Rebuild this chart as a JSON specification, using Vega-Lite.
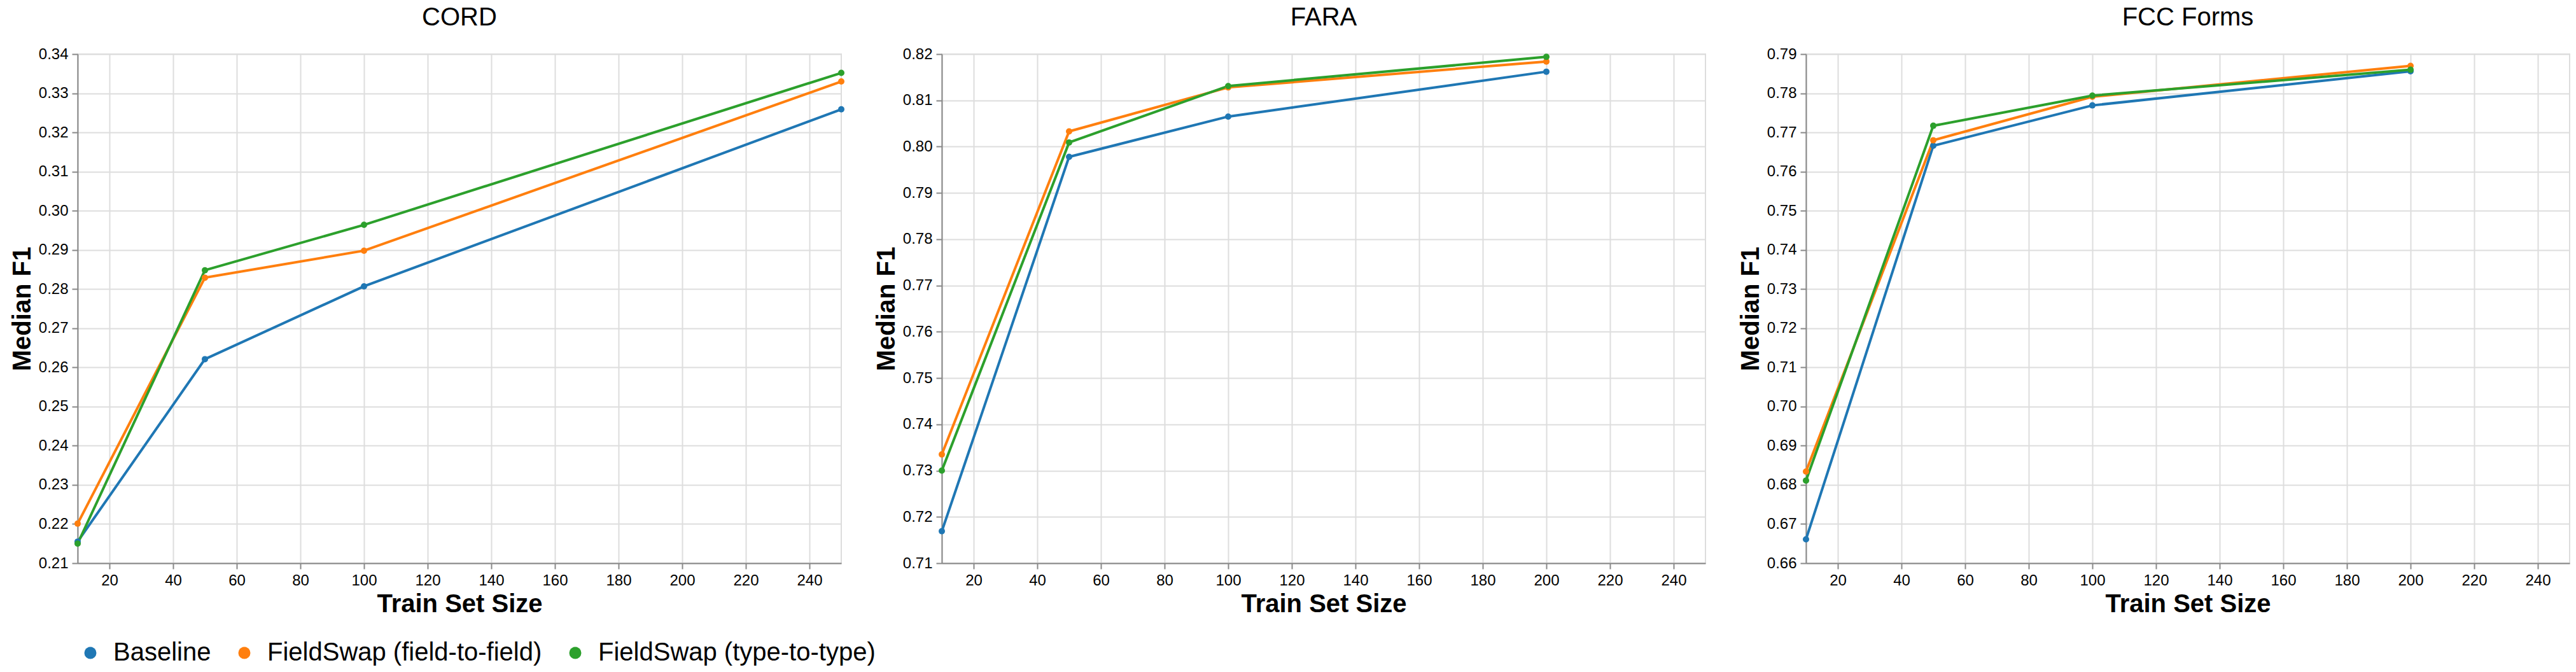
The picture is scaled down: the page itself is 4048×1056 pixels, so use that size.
{
  "$schema": "https://vega.github.io/schema/vega-lite/v6.json",
  "padding": {"left": 14, "top": 7, "right": 0, "bottom": 5},
  "background": "white",
  "data": {
    "values": [
      {"dataset": "CORD", "method": "Baseline", "size": 10, "f1": 0.2155},
      {"dataset": "CORD", "method": "Baseline", "size": 50, "f1": 0.2621},
      {"dataset": "CORD", "method": "Baseline", "size": 100, "f1": 0.2807},
      {"dataset": "CORD", "method": "Baseline", "size": 250, "f1": 0.3259},
      {"dataset": "CORD", "method": "FieldSwap (field-to-field)", "size": 10, "f1": 0.2201},
      {"dataset": "CORD", "method": "FieldSwap (field-to-field)", "size": 50, "f1": 0.2829},
      {"dataset": "CORD", "method": "FieldSwap (field-to-field)", "size": 100, "f1": 0.2898},
      {"dataset": "CORD", "method": "FieldSwap (field-to-field)", "size": 250, "f1": 0.3330},
      {"dataset": "CORD", "method": "FieldSwap (type-to-type)", "size": 10, "f1": 0.2150},
      {"dataset": "CORD", "method": "FieldSwap (type-to-type)", "size": 50, "f1": 0.2848},
      {"dataset": "CORD", "method": "FieldSwap (type-to-type)", "size": 100, "f1": 0.2964},
      {"dataset": "CORD", "method": "FieldSwap (type-to-type)", "size": 250, "f1": 0.3352},
      {"dataset": "FARA", "method": "Baseline", "size": 10, "f1": 0.7169},
      {"dataset": "FARA", "method": "Baseline", "size": 50, "f1": 0.7978},
      {"dataset": "FARA", "method": "Baseline", "size": 100, "f1": 0.8065},
      {"dataset": "FARA", "method": "Baseline", "size": 200, "f1": 0.8162},
      {"dataset": "FARA", "method": "FieldSwap (field-to-field)", "size": 10, "f1": 0.7335},
      {"dataset": "FARA", "method": "FieldSwap (field-to-field)", "size": 50, "f1": 0.8033},
      {"dataset": "FARA", "method": "FieldSwap (field-to-field)", "size": 100, "f1": 0.8128},
      {"dataset": "FARA", "method": "FieldSwap (field-to-field)", "size": 200, "f1": 0.8184},
      {"dataset": "FARA", "method": "FieldSwap (type-to-type)", "size": 10, "f1": 0.7300},
      {"dataset": "FARA", "method": "FieldSwap (type-to-type)", "size": 50, "f1": 0.8009},
      {"dataset": "FARA", "method": "FieldSwap (type-to-type)", "size": 100, "f1": 0.8131},
      {"dataset": "FARA", "method": "FieldSwap (type-to-type)", "size": 200, "f1": 0.8194},
      {"dataset": "FCC Forms", "method": "Baseline", "size": 10, "f1": 0.6661},
      {"dataset": "FCC Forms", "method": "Baseline", "size": 50, "f1": 0.7666},
      {"dataset": "FCC Forms", "method": "Baseline", "size": 100, "f1": 0.7769},
      {"dataset": "FCC Forms", "method": "Baseline", "size": 200, "f1": 0.7856},
      {"dataset": "FCC Forms", "method": "FieldSwap (field-to-field)", "size": 10, "f1": 0.6834},
      {"dataset": "FCC Forms", "method": "FieldSwap (field-to-field)", "size": 50, "f1": 0.7680},
      {"dataset": "FCC Forms", "method": "FieldSwap (field-to-field)", "size": 100, "f1": 0.7791},
      {"dataset": "FCC Forms", "method": "FieldSwap (field-to-field)", "size": 200, "f1": 0.7870},
      {"dataset": "FCC Forms", "method": "FieldSwap (type-to-type)", "size": 10, "f1": 0.6811},
      {"dataset": "FCC Forms", "method": "FieldSwap (type-to-type)", "size": 50, "f1": 0.7717},
      {"dataset": "FCC Forms", "method": "FieldSwap (type-to-type)", "size": 100, "f1": 0.7794},
      {"dataset": "FCC Forms", "method": "FieldSwap (type-to-type)", "size": 200, "f1": 0.7860}
    ]
  },
  "bounds": "flush",
  "spacing": 158,
  "resolve": {"scale": {"y": "independent", "x": "shared", "color": "shared", "stroke": "shared"}},
  "hconcat": [
    {
      "title": "CORD",
      "width": 1200,
      "height": 800,
      "transform": [{"filter": "datum.dataset == 'CORD'"}],
      "encoding": {
        "x": {"field": "size", "type": "quantitative", "title": "Train Set Size", "scale": {"domain": [10, 250], "nice": false}, "axis": {"tickCount": 12}},
        "y": {"field": "f1", "type": "quantitative", "title": "Median F1", "scale": {"zero": false, "nice": true}, "axis": {"tickCount": 12}}
      },
      "layer": [
        {
          "mark": {"type": "line", "strokeWidth": 4},
          "encoding": {"stroke": {"field": "method", "type": "nominal", "scale": {"range": ["#1f77b4", "#ff7f0e", "#2ca02c"]}, "legend": null}}
        },
        {
          "mark": {"type": "point", "filled": true, "size": 100, "opacity": 1},
          "encoding": {"color": {"field": "method", "type": "nominal", "scale": {"range": ["#1f77b4", "#ff7f0e", "#2ca02c"]}, "legend": {"title": null}}}
        }
      ]
    },
    {
      "title": "FARA",
      "width": 1200,
      "height": 800,
      "transform": [{"filter": "datum.dataset == 'FARA'"}],
      "encoding": {
        "x": {"field": "size", "type": "quantitative", "title": "Train Set Size", "scale": {"domain": [10, 250], "nice": false}, "axis": {"tickCount": 12}},
        "y": {"field": "f1", "type": "quantitative", "title": "Median F1", "scale": {"zero": false, "nice": true}, "axis": {"tickCount": 12}}
      },
      "layer": [
        {
          "mark": {"type": "line", "strokeWidth": 4},
          "encoding": {"stroke": {"field": "method", "type": "nominal", "scale": {"range": ["#1f77b4", "#ff7f0e", "#2ca02c"]}, "legend": null}}
        },
        {
          "mark": {"type": "point", "filled": true, "size": 100, "opacity": 1},
          "encoding": {"color": {"field": "method", "type": "nominal", "scale": {"range": ["#1f77b4", "#ff7f0e", "#2ca02c"]}, "legend": {"title": null}}}
        }
      ]
    },
    {
      "title": "FCC Forms",
      "width": 1200,
      "height": 800,
      "transform": [{"filter": "datum.dataset == 'FCC Forms'"}],
      "encoding": {
        "x": {"field": "size", "type": "quantitative", "title": "Train Set Size", "scale": {"domain": [10, 250], "nice": false}, "axis": {"tickCount": 12}},
        "y": {"field": "f1", "type": "quantitative", "title": "Median F1", "scale": {"zero": false, "nice": true}, "axis": {"tickCount": 12}}
      },
      "layer": [
        {
          "mark": {"type": "line", "strokeWidth": 4},
          "encoding": {"stroke": {"field": "method", "type": "nominal", "scale": {"range": ["#1f77b4", "#ff7f0e", "#2ca02c"]}, "legend": null}}
        },
        {
          "mark": {"type": "point", "filled": true, "size": 100, "opacity": 1},
          "encoding": {"color": {"field": "method", "type": "nominal", "scale": {"range": ["#1f77b4", "#ff7f0e", "#2ca02c"]}, "legend": {"title": null}}}
        }
      ]
    }
  ],
  "config": {
    "font": "Liberation Sans",
    "view": {"stroke": "#ddd", "strokeWidth": 2},
    "title": {"fontSize": 40, "fontWeight": "normal", "color": "black", "anchor": "middle", "offset": 25},
    "axis": {
      "labelFontSize": 24,
      "labelColor": "black",
      "titleFontSize": 40,
      "titleFontWeight": "bold",
      "titleColor": "black",
      "tickSize": 9,
      "tickWidth": 2,
      "tickColor": "#888",
      "domainColor": "#888",
      "domainWidth": 2,
      "gridColor": "#ddd",
      "gridWidth": 2,
      "labelPadding": 6,
      "titlePadding": 5
    },
    "legend": {
      "orient": "bottom",
      "direction": "horizontal",
      "labelFontSize": 40,
      "labelColor": "black",
      "labelLimit": 0,
      "labelOffset": 16,
      "symbolType": "circle",
      "symbolSize": 360,
      "symbolStrokeWidth": 0,
      "columnPadding": 32,
      "offset": 36
    }
  }
}
